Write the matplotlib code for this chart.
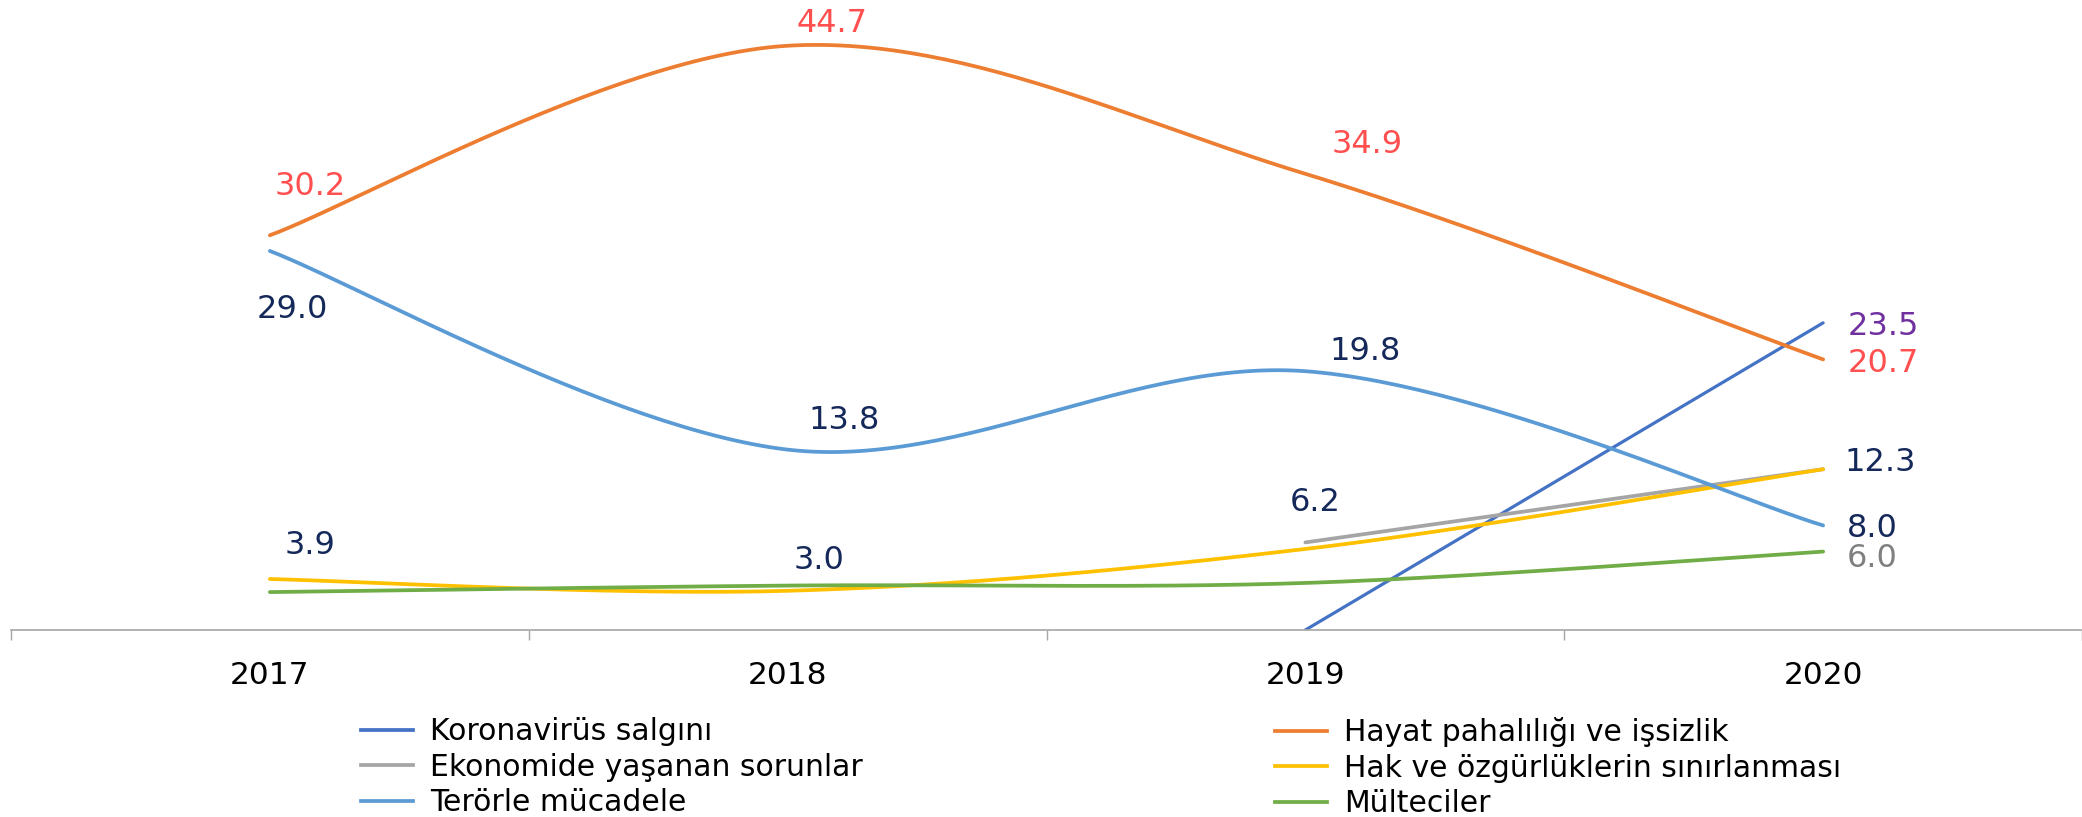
import matplotlib
matplotlib.use("Agg")
import matplotlib.pyplot as plt
from matplotlib.lines import Line2D
import numpy as np

years = ["2017", "2018", "2019", "2020"]

koronavirus = [np.nan, np.nan, 0.0, 23.5]
hayat = [30.2, 44.7, 34.9, 20.7]
ekonomi = [np.nan, np.nan, 6.7, 12.3]
hak = [3.9, 3.0, 6.2, 12.3]
teror = [29.0, 13.8, 19.8, 8.0]
multeci = [2.9, 3.4, 3.6, 6.0]

names = ["Koronavirüs salgını", "Hayat pahalılığı ve işsizlik",
         "Ekonomide yaşanan sorunlar", "Hak ve özgürlüklerin sınırlanması",
         "Terörle mücadele", "Mülteciler"]
colors = ["#4472C4", "#ED7D31", "#A5A5A5", "#FFC000", "#5B9BD5", "#70AD47"]

RED = "#FF4F4F"
NAVY = "#14285A"
PURPLE = "#7030A0"
GREY_TXT = "#808080"


def excel_smooth(x, y, n=60):
    # bezier curve like Excel's "smoothed line"
    pts = np.column_stack([x, y])
    xs, ys = [], []
    for i in range(len(pts) - 1):
        p0 = pts[max(i - 1, 0)]
        p1 = pts[i]
        p2 = pts[i + 1]
        p3 = pts[min(i + 2, len(pts) - 1)]
        c1 = p1 + (p2 - p0) / 6
        c2 = p2 - (p3 - p1) / 6
        t = np.linspace(0, 1, n)[:, None]
        b = ((1 - t) ** 3 * p1 + 3 * (1 - t) ** 2 * t * c1
             + 3 * (1 - t) * t ** 2 * c2 + t ** 3 * p2)
        xs.extend(b[:, 0])
        ys.extend(b[:, 1])
    return np.array(xs), np.array(ys)


W, H = 2082, 817
fig = plt.figure(figsize=(W / 100, H / 100), dpi=100)
ax = fig.add_axes([11 / W, 1 - 630 / H, 1 - 11 / W, 630 / H])

series = [koronavirus, hayat, ekonomi, hak, teror, multeci]
widths = [2.3, 2.7, 2.7, 2.7, 2.7, 2.7]
for vals, c, lw in zip(series, colors, widths):
    v = np.array(vals, dtype=float)
    ok = ~np.isnan(v)
    x = np.arange(len(v))[ok]
    sx, sy = excel_smooth(x, v[ok])
    ax.plot(sx, sy, color=c, lw=lw, solid_capstyle="round")

# data labels: (series values, index, colour, offset px, ha)
labels = [
    (hayat, 0, RED, (40, 49), "center"),
    (hayat, 1, RED, (44, 22), "center"),
    (hayat, 2, RED, (62, 29), "center"),
    (hayat, 3, RED, (25, -4), "left"),
    (koronavirus, 3, PURPLE, (25, -4), "left"),
    (teror, 0, NAVY, (22, -59), "center"),
    (teror, 1, NAVY, (57, 29), "center"),
    (teror, 2, NAVY, (60, 20), "center"),
    (teror, 3, NAVY, (24, -3), "left"),
    (hak, 0, NAVY, (40, 34), "center"),
    (hak, 1, NAVY, (31, 30), "center"),
    (hak, 2, NAVY, (10, 46), "center"),
    (hak, 3, NAVY, (21, 7), "left"),
    (multeci, 3, GREY_TXT, (24, -7), "left"),
]
for vals, i, c, off, ha in labels:
    ax.annotate(f"{vals[i]:.1f}", (i, vals[i]), xytext=off,
                textcoords="offset pixels", ha=ha, va="center",
                color=c, fontsize=23)

ax.set_xlim(-0.5, 3.5)
ax.set_ylim(0, 48.2)
for s in ["left", "right", "top"]:
    ax.spines[s].set_visible(False)
ax.spines["bottom"].set_color("#A6A6A6")
ax.spines["bottom"].set_linewidth(1.2)
ax.set_yticks([])
ax.set_xticks([-0.5, 0.5, 1.5, 2.5, 3.5])
ax.set_xticklabels([])
ax.tick_params(axis="x", which="major", length=7.5, width=1.0, color="#A6A6A6")
ax.set_xticks(range(len(years)), years, minor=True)
ax.tick_params(axis="x", which="minor", length=0, pad=22.5, labelsize=22.5)

handles = [Line2D([], [], color=c, lw=2.7) for c in colors]
leg_kw = dict(frameon=False, fontsize=21.5, handlelength=1.75, handletextpad=0.55,
              labelspacing=0.22, borderpad=0, borderaxespad=0, loc="upper left")
fig.legend([handles[0], handles[2], handles[4]], [names[0], names[2], names[4]],
           bbox_to_anchor=(361 / W, 1 - 717 / H), **leg_kw)
fig.legend([handles[1], handles[3], handles[5]], [names[1], names[3], names[5]],
           bbox_to_anchor=(1275 / W, 1 - 717 / H), **leg_kw)

fig.savefig("out.png", dpi=100)
